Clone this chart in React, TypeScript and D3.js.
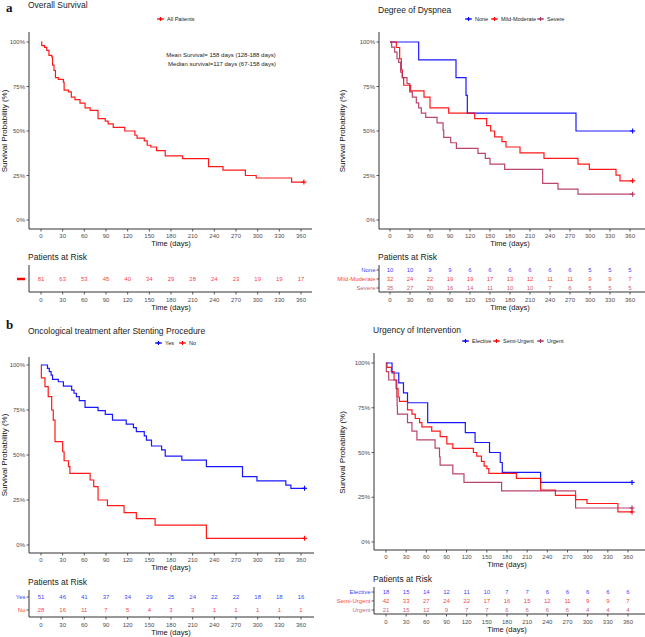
import React from "react";
import * as d3 from "d3";

const DAY_TICKS = [0, 30, 60, 90, 120, 150, 180, 210, 240, 270, 300, 330, 360];
const PCT_TICKS = [0, 0.25, 0.5, 0.75, 1];
const PCT_LABELS = ["0%", "25%", "50%", "75%", "100%"];

const BLUE = "#0000FF";
const RED = "#FF0000";
const MAROON = "#B03060";

// step curves: [day, survival]
const allPatients = [[0, 1], [1, 0.98], [5, 0.97], [8, 0.953], [11, 0.925], [15, 0.915], [16, 0.87], [18, 0.84], [20, 0.8], [24, 0.79], [31, 0.775], [32, 0.73], [38, 0.72], [42, 0.69], [47, 0.676], [54, 0.657], [61, 0.63], [68, 0.616], [79, 0.57], [89, 0.556], [93, 0.54], [100, 0.52], [116, 0.5], [130, 0.476], [133, 0.46], [143, 0.444], [147, 0.42], [152, 0.41], [160, 0.39], [172, 0.36], [196, 0.345], [232, 0.3], [252, 0.28], [283, 0.25], [298, 0.236], [347, 0.213], [364, 0.213]];

const dyspNone = [[0, 1], [43, 0.9], [99, 0.8], [114, 0.7], [116, 0.6], [279, 0.5], [364, 0.5]];
const dyspMild = [[0, 1], [9.5, 0.969], [14.5, 0.906], [17, 0.844], [18.5, 0.8], [20.5, 0.757], [31, 0.725], [51, 0.69], [60, 0.63], [88, 0.6], [127, 0.57], [145, 0.53], [151, 0.5], [157, 0.467], [168, 0.44], [174, 0.41], [195, 0.377], [231, 0.346], [282, 0.314], [299, 0.284], [339, 0.252], [345, 0.22], [364, 0.22]];
const dyspSevere = [[0, 1], [2.5, 0.971], [7, 0.943], [10.5, 0.906], [13, 0.886], [16, 0.83], [18.5, 0.8], [25.5, 0.766], [29.5, 0.72], [33.5, 0.69], [39.5, 0.658], [43, 0.63], [47, 0.6], [53.6, 0.576], [70.6, 0.546], [79.6, 0.505], [80.6, 0.464], [91, 0.434], [99.6, 0.402], [132, 0.374], [143, 0.346], [150, 0.314], [172, 0.284], [229, 0.206], [252, 0.173], [282, 0.145], [364, 0.145]];

const oncYes = [[0, 1], [9, 0.981], [11.5, 0.963], [14, 0.944], [16, 0.92], [24, 0.907], [31, 0.883], [42.5, 0.86], [45.7, 0.843], [49, 0.824], [53, 0.802], [61, 0.765], [79, 0.746], [89, 0.726], [99, 0.694], [118, 0.672], [128, 0.652], [132, 0.63], [143, 0.606], [146, 0.583], [153, 0.55], [167, 0.528], [172, 0.494], [195, 0.472], [229, 0.435], [279, 0.38], [299, 0.356], [339, 0.333], [346, 0.315], [365, 0.315]];
const oncNo = [[0, 1], [0.5, 0.929], [5.5, 0.88], [10, 0.824], [14.8, 0.75], [17, 0.694], [19.4, 0.574], [30, 0.518], [32, 0.468], [38, 0.435], [40, 0.398], [68, 0.361], [73, 0.324], [79, 0.25], [92, 0.219], [115, 0.18], [132, 0.146], [158, 0.11], [229, 0.037], [365, 0.037]];

const urgElective = [[0, 1], [9, 0.944], [19, 0.889], [26, 0.833], [32, 0.778], [62, 0.667], [118, 0.611], [132.5, 0.556], [154, 0.5], [170, 0.444], [173, 0.389], [230, 0.333], [366, 0.333]];
const urgSemi = [[0, 1], [1.5, 0.976], [8, 0.952], [12, 0.905], [16, 0.857], [18, 0.81], [20, 0.786], [32, 0.738], [38.6, 0.714], [43.5, 0.69], [50, 0.667], [53.4, 0.643], [68, 0.619], [80.6, 0.589], [90.5, 0.548], [99.4, 0.523], [130, 0.5], [135, 0.48], [142, 0.45], [146, 0.424], [150, 0.41], [153, 0.383], [194, 0.355], [230, 0.29], [252, 0.26], [282, 0.237], [299, 0.215], [345, 0.168], [366, 0.168]];
const urgUrgent = [[0, 1], [0.5, 0.952], [4, 0.905], [15, 0.857], [16, 0.81], [16.5, 0.762], [17, 0.714], [32, 0.667], [38.6, 0.619], [46, 0.571], [73, 0.524], [79.6, 0.476], [80.5, 0.429], [99.4, 0.381], [116, 0.333], [172, 0.286], [282, 0.19], [366, 0.19]];

// numbers at risk
const allRisk = [81, 63, 53, 45, 40, 34, 29, 28, 24, 23, 19, 19, 17];
const noneRisk = [10, 10, 9, 9, 6, 6, 6, 6, 6, 6, 5, 5, 5];
const mildRisk = [32, 24, 22, 19, 19, 17, 13, 12, 11, 11, 9, 9, 7];
const severeRisk = [35, 27, 20, 16, 14, 11, 10, 10, 7, 6, 5, 5, 5];
const yesRisk = [51, 46, 41, 37, 34, 29, 25, 24, 22, 22, 18, 18, 16];
const noRisk = [28, 16, 11, 7, 5, 4, 3, 3, 1, 1, 1, 1, 1];
const electiveRisk = [18, 15, 14, 12, 11, 10, 7, 7, 6, 6, 6, 6, 6];
const semiRisk = [42, 33, 27, 24, 22, 17, 16, 15, 12, 11, 9, 9, 7];
const urgentRisk = [21, 15, 12, 9, 7, 7, 6, 6, 6, 6, 4, 4, 4];

const FONT = "Liberation Sans, Arial, sans-serif";
const AXIS = "#333333";
const TXT = "#4D4D4D";

const panels = [
  {
    title: "Overall Survival", tag: "a", tagY: 12, titleY: 8,
    axX: 29, right: 312, top: 32, axY: 229, x0: 41, x1: 301, y100: 42, y0: 220, yTitleX: 7,
    legendY: 19, legend: [{ name: "All Patients", x: 157 }],
    strata: [{ name: "", color: RED, curve: allPatients, risk: allRisk }],
    risk: { titleY: 257, top: 265, axY: 292, rows: [279] },
    dash: true,
  },
  {
    title: "Degree of Dyspnea", titleY: 13,
    axX: 379, right: 645, top: 32, axY: 229, x0: 390, x1: 630, y100: 42, y0: 220, yTitleX: 345,
    legendY: 19, legend: [{ name: "None", x: 465 }, { name: "Mild-Moderate", x: 491 }, { name: "Severe", x: 537 }],
    strata: [
      { name: "None", color: BLUE, curve: dyspNone, risk: noneRisk },
      { name: "Mild-Moderate", color: RED, curve: dyspMild, risk: mildRisk },
      { name: "Severe", color: MAROON, curve: dyspSevere, risk: severeRisk },
    ],
    risk: { titleY: 257, top: 265, axY: 292, rows: [270, 279, 288] },
  },
  {
    title: "Oncological treatment after Stenting Procedure", tag: "b", tagY: 329, titleY: 334,
    axX: 29, right: 314, top: 357, axY: 553, x0: 41, x1: 301, y100: 365, y0: 545, yTitleX: 7,
    legendY: 343, legend: [{ name: "Yes", x: 155 }, { name: "No", x: 179 }],
    strata: [
      { name: "Yes", color: BLUE, curve: oncYes, risk: yesRisk },
      { name: "No", color: RED, curve: oncNo, risk: noRisk },
    ],
    risk: { titleY: 582, top: 590, axY: 617, rows: [597, 610] },
  },
  {
    title: "Urgency of Intervention", titleY: 333,
    axX: 374, right: 645, top: 353, axY: 550, x0: 386, x1: 628, y100: 363, y0: 542, yTitleX: 345,
    legendY: 341, legend: [{ name: "Elective", x: 462 }, { name: "Semi-Urgent", x: 493 }, { name: "Urgent", x: 537 }],
    strata: [
      { name: "Elective", color: BLUE, curve: urgElective, risk: electiveRisk },
      { name: "Semi-Urgent", color: RED, curve: urgSemi, risk: semiRisk },
      { name: "Urgent", color: MAROON, curve: urgUrgent, risk: urgentRisk },
    ],
    risk: { titleY: 579, top: 587, axY: 614, rows: [592, 601, 610] },
  },
];

function Cross({ x, y, color, s = 2.5 }) {
  return (
    <g stroke={color} strokeWidth={1.1}>
      <line x1={x - s} x2={x + s} y1={y} y2={y} />
      <line x1={x} x2={x} y1={y - s} y2={y + s} />
    </g>
  );
}

function Panel({ p }) {
  const x = d3.scaleLinear().domain([0, 360]).range([p.x0, p.x1]);
  const y = d3.scaleLinear().domain([0, 1]).range([p.y0, p.y100]);
  const line = d3.line().x((d) => x(d[0])).y((d) => y(d[1])).curve(d3.curveStepAfter);
  const r = p.risk;

  const xAxis = (axY, labY, titleY) => (
    <g>
      <line x1={p.axX} x2={p.right} y1={axY} y2={axY} stroke={AXIS} strokeWidth={1} />
      {DAY_TICKS.map((t) => (
        <g key={t}>
          <line x1={x(t)} x2={x(t)} y1={axY} y2={axY + 2.5} stroke={AXIS} strokeWidth={0.8} />
          <text x={x(t)} y={labY} fontSize={6} fill={TXT} textAnchor="middle">{t}</text>
        </g>
      ))}
      <text x={(p.x0 + p.x1) / 2} y={titleY} fontSize={7.5} fill="#111" textAnchor="middle">Time (days)</text>
    </g>
  );

  return (
    <g fontFamily={FONT}>
      {p.tag && (
        <text x={6} y={p.tagY} fontSize={13} fontWeight="bold" fontFamily="Liberation Serif, serif" fill="#111">{p.tag}</text>
      )}
      <text x={p.axX - 1} y={p.titleY} fontSize={8.5} fill="#222">{p.title}</text>
      {p.legend.map((l, i) => (
        <g key={l.name}>
          <Cross x={l.x + 3.5} y={p.legendY} color={p.strata[i].color} s={2} />
          <line x1={l.x} x2={l.x + 7} y1={p.legendY} y2={p.legendY} stroke={p.strata[i].color} strokeWidth={1.1} />
          <text x={l.x + 10} y={p.legendY + 2} fontSize={5.5} fill="#222">{l.name}</text>
        </g>
      ))}

      {/* y axis */}
      <line x1={p.axX} x2={p.axX} y1={p.top} y2={p.axY} stroke={AXIS} strokeWidth={1} />
      {PCT_TICKS.map((t, i) => (
        <g key={t}>
          <line x1={p.axX - 2.5} x2={p.axX} y1={y(t)} y2={y(t)} stroke={AXIS} strokeWidth={0.8} />
          <text x={p.axX - 4} y={y(t) + 2} fontSize={6} fill={TXT} textAnchor="end">{PCT_LABELS[i]}</text>
        </g>
      ))}
      <text transform={`translate(${p.yTitleX},${(p.y0 + p.y100) / 2}) rotate(-90)`} fontSize={8} fill="#111" textAnchor="middle">Survival Probability (%)</text>
      {xAxis(p.axY, p.axY + 9, p.axY + 17)}

      {p.title === "Overall Survival" && (
        <g fontSize={6} fill="#222" textAnchor="middle">
          <text x={221} y={57}>Mean Survival= 158 days (128-188 days)</text>
          <text x={222} y={66}>Median survival=117 days (67-158 days)</text>
        </g>
      )}

      {p.strata.map((s) => {
        const last = s.curve[s.curve.length - 1];
        return (
          <g key={s.color}>
            <path d={line(s.curve)} fill="none" stroke={s.color} strokeWidth={1.2} strokeOpacity={0.9} />
            <Cross x={x(last[0])} y={y(last[1])} color={s.color} />
          </g>
        );
      })}

      {/* risk table */}
      <text x={p.axX - 1} y={r.titleY + 3} fontSize={8.5} fill="#222">Patients at Risk</text>
      <line x1={p.axX} x2={p.axX} y1={r.top} y2={r.axY} stroke={AXIS} strokeWidth={1} />
      {p.strata.map((s, i) => (
        <g key={s.color} fill={s.color} fillOpacity={0.8}>
          {p.dash ? (
            <line x1={17} x2={25} y1={r.rows[i]} y2={r.rows[i]} stroke={s.color} strokeWidth={2.5} />
          ) : (
            <g>
              <line x1={p.axX - 2.5} x2={p.axX} y1={r.rows[i]} y2={r.rows[i]} stroke={AXIS} strokeWidth={0.8} />
              <text x={p.axX - 3.5} y={r.rows[i] + 2} fontSize={6} textAnchor="end">{s.name}</text>
            </g>
          )}
          {s.risk.map((n, k) => (
            <text key={k} x={x(DAY_TICKS[k])} y={r.rows[i] + 2.2} fontSize={6} textAnchor="middle">{n}</text>
          ))}
        </g>
      ))}
      {xAxis(r.axY, r.axY + 10, r.axY + 18)}
    </g>
  );
}

export default function App() {
  return (
    <svg width={645} height={637} style={{ position: "absolute", left: 0, top: 0, background: "#fff" }}>
      <rect width={645} height={637} fill="#fff" />
      {panels.map((p) => (
        <Panel key={p.title} p={p} />
      ))}
    </svg>
  );
}
